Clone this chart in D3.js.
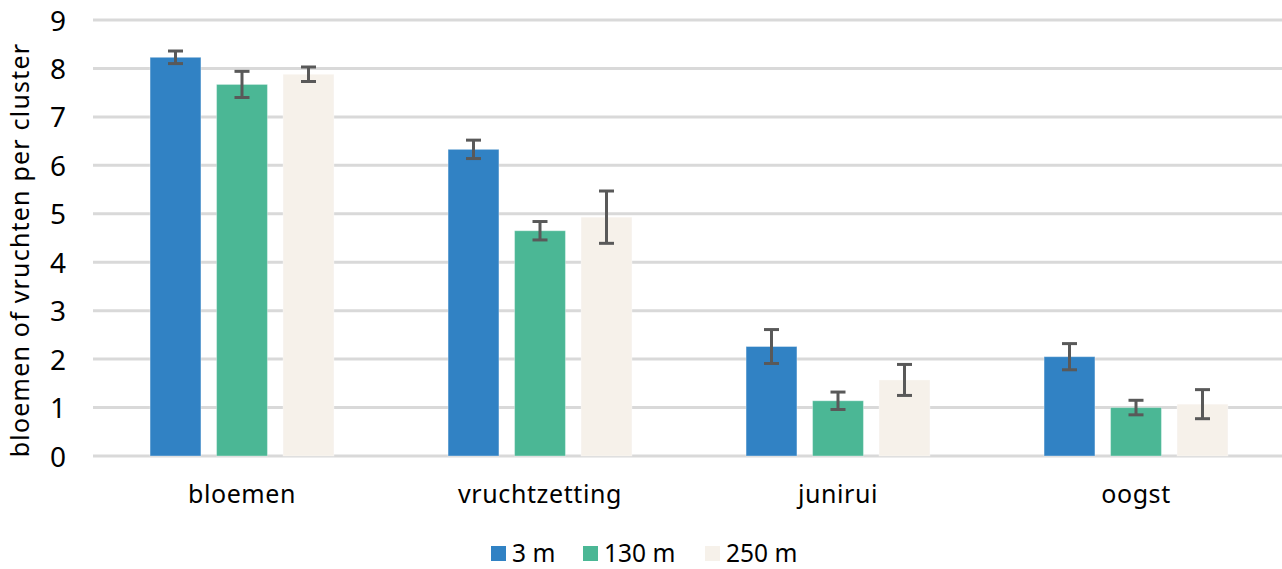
<!DOCTYPE html>
<html>
<head>
<meta charset="utf-8">
<script src="https://cdn.jsdelivr.net/npm/d3@7"></script>
<style>
  html, body { margin: 0; padding: 0; background: #fff; }
  svg { display: block; font-family: "Noto Sans", sans-serif; }
</style>
</head>
<body>
<svg id="chart" width="1282" height="569"></svg>
<script>
const categories = ["bloemen", "vruchtzetting", "junirui", "oogst"];
const seriesNames = ["3 m", "130 m", "250 m"];
const seriesColors = ["#3182C4", "#4BB795", "#F6F1EA"];
const values3m   = [8.23, 6.33, 2.26, 2.05];
const values130m = [7.67, 4.65, 1.14, 1.00];
const values250m = [7.88, 4.93, 1.57, 1.07];
const err3m   = [0.13, 0.19, 0.35, 0.27];
const err130m = [0.27, 0.19, 0.18, 0.15];
const err250m = [0.15, 0.54, 0.32, 0.30];
const yTicks = [0, 1, 2, 3, 4, 5, 6, 7, 8, 9];
const yTitle = "bloemen of vruchten per cluster";

const seriesValues = [values3m, values130m, values250m];
const seriesErrors = [err3m, err130m, err250m];

const svg = d3.select("#chart");
const plotLeft = 93, plotRight = 1285, plotTop = 20, plotBottom = 456;

const y = d3.scaleLinear().domain([0, 9]).range([plotBottom, plotTop]);
const x0 = d3.scaleBand().domain(categories).range([plotLeft, plotRight])
  .paddingInner(0.383).paddingOuter(0.1915);
const x1 = d3.scaleBand().domain(seriesNames).range([0, x0.bandwidth()])
  .paddingInner(0.235).paddingOuter(0);

// gridlines
svg.append("g").selectAll("line").data(yTicks).join("line")
  .attr("x1", plotLeft).attr("x2", 1282)
  .attr("y1", d => y(d)).attr("y2", d => y(d))
  .attr("stroke", "#D9D9D9").attr("stroke-width", 3);

// y tick labels
const yAxis = d3.axisLeft(y).tickValues(yTicks).tickSize(0).tickPadding(0);
const gy = svg.append("g").attr("transform", "translate(66,0)").call(yAxis);
gy.select(".domain").remove();
gy.selectAll("text").attr("font-size", 28).attr("fill", "#000")
  .attr("font-family", "'Noto Sans', sans-serif").attr("dy", "0.36em");

// y title
svg.append("text")
  .attr("transform", `translate(29,250) rotate(-90)`)
  .attr("text-anchor", "middle")
  .attr("font-size", 25)
  .attr("letter-spacing", 1.2)
  .attr("fill", "#000")
  .text(yTitle);

// x labels
const xAxis = d3.axisBottom(x0).tickSize(0).tickPadding(0);
const gx = svg.append("g").attr("transform", "translate(0,503)").call(xAxis);
gx.select(".domain").remove();
gx.selectAll("text").attr("font-size", 25).attr("fill", "#000")
  .attr("letter-spacing", 0.6)
  .attr("font-family", "'Noto Sans', sans-serif").attr("dy", "0");

// bars
const rows = [];
categories.forEach((c, i) => {
  seriesNames.forEach((s, j) => {
    rows.push({ cat: c, ser: s, v: seriesValues[j][i], e: seriesErrors[j][i], color: seriesColors[j] });
  });
});

const gb = svg.append("g");
gb.selectAll("rect").data(rows).join("rect")
  .attr("x", d => x0(d.cat) + x1(d.ser))
  .attr("width", x1.bandwidth())
  .attr("y", d => y(d.v))
  .attr("height", d => y(0) - y(d.v))
  .attr("fill", d => d.color)
  .attr("stroke", "rgba(255,255,255,0.35)")
  .attr("stroke-width", 1);

// error bars
const ge = svg.append("g").attr("stroke", "#595959").attr("stroke-width", 3);
const cap = 7.5;
rows.forEach(d => {
  const cx = x0(d.cat) + x1(d.ser) + x1.bandwidth() / 2;
  ge.append("line").attr("x1", cx).attr("x2", cx).attr("y1", y(d.v + d.e)).attr("y2", y(d.v - d.e));
  ge.append("line").attr("x1", cx - cap).attr("x2", cx + cap).attr("y1", y(d.v + d.e)).attr("y2", y(d.v + d.e));
  ge.append("line").attr("x1", cx - cap).attr("x2", cx + cap).attr("y1", y(d.v - d.e)).attr("y2", y(d.v - d.e));
});

// legend
const legendX = [491, 583, 705];
const lg = svg.append("g");
seriesNames.forEach((s, j) => {
  lg.append("rect").attr("x", legendX[j]).attr("y", 546).attr("width", 15).attr("height", 15)
    .attr("fill", seriesColors[j]);
  lg.append("text").attr("x", legendX[j] + 21).attr("y", 562)
    .attr("font-size", 24.5).attr("fill", "#000").text(s);
});
</script>
</body>
</html>
